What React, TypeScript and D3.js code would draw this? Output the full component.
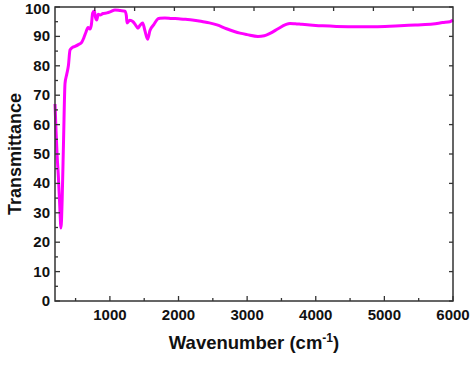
import React from 'react';
import * as d3 from 'd3';

// FTIR spectrum
const wavenumber = [
  200, 215, 230, 250, 270, 287, 305, 325, 346, 370, 395, 419, 450, 491, 540, 589,
  620, 652, 681, 710, 730, 749, 773, 790, 808, 830, 856, 900, 958, 1010, 1074,
  1150, 1220, 1240, 1249, 1290, 1336, 1370, 1409, 1440, 1478, 1510, 1550, 1584,
  1640, 1701, 1730, 1800, 1900, 2000, 2100, 2200, 2357, 2450, 2561, 2700, 2896,
  3000, 3158, 3250, 3333, 3450, 3560, 3624, 3700, 3800, 3915, 4100, 4300, 4644,
  4900, 5227, 5450, 5707, 5850, 5955, 6000,
];
const transmittance = [
  67, 58, 50, 42, 32, 24.8, 35, 55, 74, 77, 80, 85.4, 86.2, 86.6, 87.2, 88,
  89.5, 91.5, 93, 92.5, 94, 97.9, 98.6, 96.5, 95.6, 97.5, 97.3, 97.8, 98, 98.4, 99,
  98.8, 98.6, 97, 94.6, 95.5, 95, 94, 92.8, 93.8, 94.6, 92, 89, 92,
  94, 96, 96.2, 96.3, 96.1, 96, 95.8, 95.6, 95, 94.6, 93.9, 92.6, 91.1,
  90.6, 90.0, 90.2, 91, 92.6, 94, 94.4, 94.3, 94.1, 93.9, 93.6, 93.4, 93.3,
  93.3, 93.6, 93.9, 94.2, 94.7, 95, 95.6,
];

const xTicks = [1000, 2000, 3000, 4000, 5000, 6000];
const xMinor = [500, 1500, 2500, 3500, 4500, 5500];
const yTicks = [0, 10, 20, 30, 40, 50, 60, 70, 80, 90, 100];
const yMinor = [5, 15, 25, 35, 45, 55, 65, 75, 85, 95];
const topDivisions = d3.range(1, 10);

const width = 474;
const height = 365;
const margin = { left: 55, right: 21, top: 7, bottom: 64 };
const font = "'Liberation Sans', Arial, sans-serif";
const axisColor = '#333';

const App = () => {
  const x = d3.scaleLinear().domain([200, 6000]).range([margin.left, width - margin.right]);
  const y = d3.scaleLinear().domain([0, 100]).range([height - margin.bottom, margin.top]);
  const top = d3.scaleLinear().domain([0, 10]).range([margin.left, width - margin.right]);

  const pts = wavenumber.map((w, i) => [w, transmittance[i]] as [number, number]);
  const line = d3
    .line<[number, number]>()
    .x((d) => x(d[0]))
    .y((d) => y(d[1]))
    .curve(d3.curveMonotoneX);

  const x0 = margin.left;
  const x1 = width - margin.right;
  const y0 = height - margin.bottom;
  const y1 = margin.top;

  return (
    <svg width={width} height={height} style={{ position: 'absolute', left: 0, top: 0, background: '#fff' }}>
      <path d={line(pts) || ''} fill="none" stroke="#ff00ff" strokeWidth={3} strokeLinejoin="round" />

      {/* frame */}
      <rect x={x0} y={y1} width={x1 - x0} height={y0 - y1} fill="none" stroke={axisColor} strokeWidth={1.5} />

      {/* bottom ticks */}
      {xTicks.map((t) => (
        <g key={'xt' + t}>
          <line x1={x(t)} x2={x(t)} y1={y0} y2={y0 - 5} stroke={axisColor} strokeWidth={1.3} />
          <text x={x(t)} y={y0 + 19} textAnchor="middle" fontFamily={font} fontWeight="bold" fontSize={15} fill="#111">
            {t}
          </text>
        </g>
      ))}
      {xMinor.map((t) => (
        <line key={'xm' + t} x1={x(t)} x2={x(t)} y1={y0} y2={y0 - 3} stroke={axisColor} strokeWidth={1.3} />
      ))}

      {/* top ticks */}
      {topDivisions.map((t) => (
        <line key={'tt' + t} x1={top(t)} x2={top(t)} y1={y1} y2={y1 + 4} stroke={axisColor} strokeWidth={1.3} />
      ))}

      {/* left ticks */}
      {yTicks.map((t) => (
        <g key={'yt' + t}>
          <line x1={x0} x2={x0 + 5} y1={y(t)} y2={y(t)} stroke={axisColor} strokeWidth={1.3} />
          <line x1={x1} x2={x1 - 4} y1={y(t)} y2={y(t)} stroke={axisColor} strokeWidth={1.3} />
          <text
            x={x0 - 5}
            y={Math.max(y(t) + 5, 14)}
            textAnchor="end"
            fontFamily={font}
            fontWeight="bold"
            fontSize={15}
            fill="#111"
          >
            {t}
          </text>
        </g>
      ))}
      {yMinor.map((t) => (
        <line key={'ym' + t} x1={x0} x2={x0 + 3} y1={y(t)} y2={y(t)} stroke={axisColor} strokeWidth={1.3} />
      ))}

      {/* axis titles */}
      <text
        transform={`translate(21, ${(y0 + y1) / 2}) rotate(-90)`}
        textAnchor="middle"
        fontFamily={font}
        fontWeight="bold"
        fontSize={18}
        fill="#111"
      >
        Transmittance
      </text>
      <text x={(x0 + x1) / 2} y={y0 + 48} textAnchor="middle" fontFamily={font} fontWeight="bold" fontSize={18.5} fill="#111">
        Wavenumber (cm
        <tspan dy={-7} fontSize={12}>-1</tspan>
        <tspan dy={7}>)</tspan>
      </text>
    </svg>
  );
};

export default App;
